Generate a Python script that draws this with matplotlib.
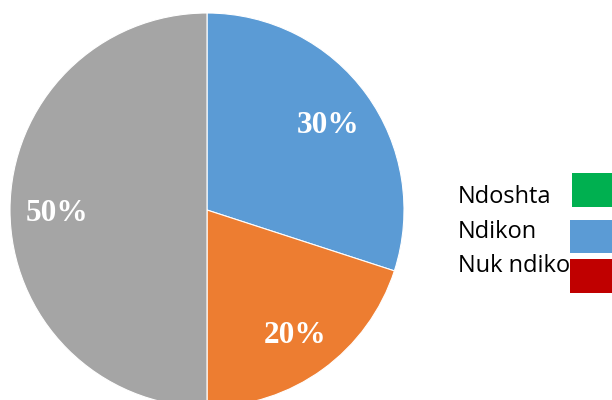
import matplotlib.pyplot as plt
from matplotlib.patches import Rectangle

# slice values and colours (clockwise from the top)
shares = [30, 20, 50]
slice_colors = ["#5B9BD5", "#ED7D31", "#A5A5A5"]

# legend entries as printed beside the chart
legend_labels = ["Ndoshta", "Ndikon", "Nuk ndikon"]
legend_colors = ["#00B050", "#5B9BD5", "#C00000"]

fig = plt.figure(figsize=(6.12, 4.0), dpi=100)
ax = fig.add_axes([10 / 612, -7 / 400, 394 / 612, 394 / 400])

wedges, texts, autotexts = ax.pie(
    shares, colors=slice_colors, startangle=90, counterclock=False,
    autopct="%d%%", pctdistance=0.76, radius=1.0,
    wedgeprops=dict(edgecolor="white", linewidth=0.8),
    textprops=dict(color="white", fontsize=22.5, fontweight="bold",
                   family="Liberation Serif"))
for t in autotexts:
    x, y = t.get_position()
    t.set_position((x, y - 0.02))
ax.set_xlim(-1, 1)
ax.set_ylim(-1, 1)
ax.set_aspect("equal")
ax.axis("off")

# hand-placed legend: text on the left, swatch on the right
baselines = [203, 238, 272]
for lab, y in zip(legend_labels, baselines):
    fig.text(458 / 612, 1 - y / 400, lab, fontsize=17, family="Open Sans",
             va="baseline", ha="left", color="black")
for col, (x0, y0, x1, y1) in zip(legend_colors,
                                 [(572, 173, 612, 207),
                                  (570, 220, 612, 253),
                                  (570, 259, 612, 293)]):
    fig.add_artist(Rectangle((x0 / 612, 1 - y1 / 400), (x1 - x0) / 612,
                             (y1 - y0) / 400, transform=fig.transFigure,
                             facecolor=col, edgecolor="none", zorder=5))

fig.savefig("out.png", dpi=100)
